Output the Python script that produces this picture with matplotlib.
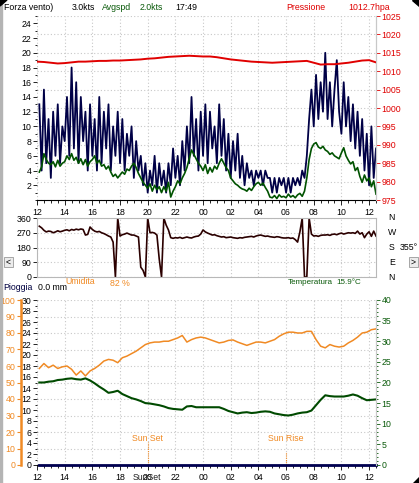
import numpy as np
import matplotlib.pyplot as plt
from matplotlib.ticker import MultipleLocator, FuncFormatter
from matplotlib.patches import Rectangle, Polygon

plt.rcParams['font.family'] = ['Liberation Sans Narrow', 'Liberation Sans', 'DejaVu Sans']
plt.rcParams['font.size'] = 6.3

# wind gust (kts), every 10 min from 12:10 to 12:30 next day
gust = [
    13, 4, 15, 5, 11,
    3, 12, 6, 13, 5, 10,
    8, 14, 6, 18, 7, 16,
    5, 14, 8, 12, 4, 13,
    6, 11, 4, 14, 5, 12,
    7, 13, 4, 10, 6, 12,
    5, 11, 4, 9, 6, 10,
    3, 8, 4, 6, 2, 5,
    1, 4, 2, 6, 1, 5,
    2, 4, 1, 5, 2, 7,
    3, 6, 2, 8, 4, 10,
    5, 14, 6, 11, 4, 12,
    6, 13, 5, 12, 7, 10,
    5, 13, 6, 11, 4, 9,
    3, 8, 4, 9, 3, 6,
    2, 5, 3, 4, 2, 4,
    3, 4, 2, 4, 3, 3,
    1, 3, 1, 3, 2, 3,
    1, 3, 1, 3, 2, 3,
    2, 4, 3, 6, 11, 15,
    10, 17, 11, 16, 12, 20,
    11, 16, 10, 15, 19, 12,
    9, 16, 10, 14, 8, 13,
    7, 12, 6, 11, 4, 9,
    2, 10, 3, 7,
]

# average speed (kts), same times
avgspd = [
    3.8, 4.5, 6.3, 5.5, 5.0,
    4.8, 5.2, 4.5, 5.4, 4.6, 5.0,
    5.2, 6.0, 5.5, 6.3, 5.4, 5.8,
    5.0, 5.6, 4.8, 5.5, 4.6, 5.2,
    5.5, 6.0, 5.0, 5.4, 4.6, 4.8,
    4.2, 4.6, 3.8, 3.2, 3.5, 3.0,
    3.4, 3.8, 3.5, 4.2, 4.0, 4.6,
    5.0, 4.4, 3.6, 3.0, 2.4, 2.0,
    1.6, 2.2, 1.2, 2.0, 1.4, 1.8,
    1.0, 1.8, 1.2, 2.4, 0.4, 1.2,
    1.8, 2.6, 2.2, 3.0, 3.6, 4.4,
    5.6, 6.8, 6.2, 5.6, 5.0, 4.6,
    4.0, 4.8, 3.6, 4.4, 3.8, 4.6,
    4.2, 5.0, 5.6, 5.0, 4.4, 4.0,
    3.0, 2.6, 2.2, 2.0, 1.7, 1.5,
    1.4, 1.2, 1.6, 1.3, 1.8, 2.2,
    2.4, 2.0, 2.3, 1.7, 1.2, 0.4,
    0.3, 0.6, 0.2, 0.7, 0.4, 0.5,
    0.3, 0.8, 0.4, 0.6, 0.3, 0.7,
    0.9, 0.5, 1.2, 3.0, 5.5, 7.0,
    7.6, 7.8, 7.2, 7.0, 7.3, 6.8,
    6.6, 6.2, 6.4, 6.0, 5.8, 5.6,
    6.4, 7.1, 6.0, 5.4, 4.9, 5.2,
    4.0, 4.4, 3.2, 2.4, 3.4, 2.6,
    3.0, 1.8, 2.6, 0.8,
]

# wind direction (deg), same times
direction = [
    310, 300, 285, 275, 280,
    278, 270, 275, 282, 276, 280,
    285, 288, 282, 290, 286, 292,
    288, 293, 290, 256, 260, 305,
    290, 280, 275, 278, 270, 265,
    258, 250, 244, 213, 0, 360,
    250, 258, 262, 268, 262, 256,
    256, 250, 244, 60, 40, 0,
    360, 270, 272, 268, 256, 110,
    0, 360, 317, 287, 240, 236,
    240, 238, 242, 236, 240, 244,
    240, 238, 244, 248, 250, 262,
    287, 275, 268, 262, 256, 258,
    252, 248, 244, 246, 240, 242,
    244, 240, 238, 236, 240, 238,
    242, 244, 246, 248, 244, 250,
    254, 256, 252, 248, 250, 246,
    244, 242, 246, 244, 240, 238,
    238, 240, 236, 238, 228, 213,
    275, 360, 0, 0, 360, 262,
    250, 252, 248, 254, 256, 256,
    258, 254, 260, 262, 258, 264,
    268, 262, 266, 270, 268, 270,
    266, 280, 262, 270, 240, 262,
    276, 248, 280, 250,
]

# pressure (hPa), every 30 min from 12:00
pressure = [
    1012.6, 1012.5, 1012.3, 1012.1, 1012.2, 1012.4, 1012.6, 1012.6,
    1012.7, 1012.8, 1012.8, 1012.9, 1012.9, 1013.0, 1013.1, 1013.2,
    1013.4, 1013.5, 1013.7, 1013.9, 1014.0, 1014.1, 1014.2, 1014.1,
    1014.0, 1014.0, 1013.8, 1013.5, 1013.2, 1013.0, 1012.8, 1012.6,
    1012.5, 1012.4, 1012.3, 1012.4, 1012.5, 1012.6, 1012.7, 1012.8,
    1012.3, 1011.8, 1011.9, 1011.9, 1012.1, 1012.3, 1012.6, 1012.9,
    1013.0, 1012.4,
]

# humidity (%) and temperature (C), every 20 min from 12:10
humidity = [
    58.5, 61.5, 59.0,
    60.5, 58.5, 59.5,
    60.0, 58.0, 54.5,
    57.0, 54.0, 57.0,
    58.5, 60.5, 63.0,
    64.0, 63.5, 62.0,
    65.0, 66.0, 67.5,
    69.0, 71.0, 73.0,
    74.0, 74.5, 74.5,
    75.0, 75.0, 76.0,
    77.0, 78.5, 74.5,
    76.0, 77.0, 77.5,
    77.0, 76.0, 75.0,
    74.0, 74.5, 75.5,
    75.8, 74.5, 73.5,
    72.5, 73.5, 74.5,
    74.5, 74.0, 75.0,
    76.0, 78.0, 79.5,
    80.5, 80.5, 80.0,
    80.0, 81.0, 81.0,
    76.0, 72.0, 71.0,
    73.0, 72.0, 71.5,
    72.0, 74.0, 75.5,
    77.5, 80.0, 80.5,
    82.0, 82.5,
]

temperature = [
    20.0, 20.0, 20.2,
    20.3, 20.6, 20.7,
    20.9, 21.0, 20.8,
    20.7, 21.0, 20.5,
    19.8, 19.0, 18.3,
    17.5, 17.7, 18.0,
    17.2, 16.7, 16.2,
    15.9, 15.5, 15.0,
    14.9, 14.7, 14.5,
    14.2, 13.8, 13.6,
    13.5, 13.4, 14.2,
    14.3, 14.0, 14.0,
    14.0, 14.0, 14.0,
    14.0, 13.6, 13.1,
    12.8, 12.5, 12.7,
    12.8, 12.6, 12.7,
    12.9, 13.0, 12.9,
    12.5, 12.3, 12.1,
    12.0, 12.2, 12.5,
    12.7, 12.8, 13.2,
    14.5, 15.8, 16.9,
    16.7, 16.6, 16.6,
    16.6, 16.8, 17.1,
    16.8, 16.2, 15.7,
    15.8, 15.9,
]

rain = [0.0] * len(humidity)

t_fast = 12 + 10 / 60 + np.arange(len(gust)) / 6
t_slow = 12 + 10 / 60 + np.arange(len(humidity)) / 3
t_pres = 12 + np.arange(len(pressure)) * 0.5

W, H = 419, 483
GRID = '#c8c8c8'
ORANGE = '#f08a24'
GREEN = '#0a5a0a'
RED = '#e00000'

fig = plt.figure(figsize=(W / 100, H / 100), dpi=100)


def px_axes(l, t, r, b):
    return fig.add_axes([l / W, 1 - b / H, (r - l) / W, (b - t) / H])


def ftxt(x, y, s, color='black', ha='left', **kw):
    fig.text(x / W, 1 - y / H, s, color=color, ha=ha, va='center', **kw)


def hour_fmt(v, pos):
    return '%02d' % (int(round(v)) % 24)


def style_x(ax, labels):
    ax.set_xlim(12, 36.5)
    ax.xaxis.set_major_locator(MultipleLocator(2))
    ax.xaxis.set_minor_locator(MultipleLocator(0.5))
    ax.xaxis.set_major_formatter(FuncFormatter(hour_fmt))
    ax.tick_params(axis='x', which='major', length=3.5, width=0.6, pad=2, labelbottom=labels)
    ax.tick_params(axis='x', which='minor', length=2.5, width=0.6)


# ---- wind panel
ax1 = px_axes(37, 16, 376, 200)
ax1.set_ylim(0, 25)
style_x(ax1, True)
ax1.yaxis.set_minor_locator(MultipleLocator(1))
ax1.set_yticks(np.arange(2, 25, 2))
ax1.tick_params(axis='y', which='major', length=3, width=0.6, pad=1)
ax1.tick_params(axis='y', which='minor', length=1.5, width=0.6)
ax1.grid(axis='x', color=GRID, linestyle=(0, (1, 2)), linewidth=0.8)
for p in np.arange(975, 1026, 5):
    ax1.axhline((p - 975) / 2, color=GRID, linestyle=(0, (1, 2)), linewidth=0.8, zorder=0)
for s in ['top', 'left']:
    ax1.spines[s].set_visible(False)
ax1.spines['right'].set_color(GRID)
ax1.spines['bottom'].set_linewidth(0.8)
ax1.plot(t_fast, gust, color='#000046', lw=1.3)
ax1.plot(t_fast, avgspd, color='#005200', lw=1.2)

ax1p = ax1.twinx()
ax1p.set_ylim(975, 1025)
ax1p.set_yticks(np.arange(975, 1026, 5))
ax1p.tick_params(axis='y', colors=RED, length=3, width=0.6, pad=1)
for s in ['top', 'left', 'bottom']:
    ax1p.spines[s].set_visible(False)
ax1p.spines['right'].set_color(GRID)
ax1p.plot(t_pres, pressure, color=RED, lw=1.4)

# ---- direction panel
ax2 = px_axes(37, 218, 376, 277)
ax2.set_ylim(0, 360)
ax2.set_yticks([0, 90, 180, 270, 360])
style_x(ax2, False)
ax2.tick_params(axis='x', which='both', length=0)
ax2.tick_params(axis='y', length=3, width=0.6, pad=1)
ax2.grid(color=GRID, linestyle=(0, (1, 2)), linewidth=0.8)
for s in ax2.spines.values():
    s.set_color('#b8b8b8')
ax2.plot(t_fast, direction, color='#2b0000', lw=1.2)
trans2 = ax2.get_yaxis_transform()
for v, lab in zip([360, 270, 180, 90, 0], ['N', 'W', 'S', 'E', 'N']):
    ax2.text(1.047, v, lab, transform=trans2, ha='center', va='center', fontsize=6.3)
ax2.text(1.07, 180, '355°', transform=trans2, ha='left', va='center', fontsize=6.3)

# ---- rain / humidity / temperature panel
ax3 = px_axes(37, 300, 376, 465)
ax3.set_ylim(0, 30)
ax3.set_yticks(np.arange(0, 31, 2))
ax3.yaxis.set_minor_locator(MultipleLocator(1))
style_x(ax3, True)
ax3.tick_params(axis='y', which='major', length=3, width=0.6, pad=1)
ax3.tick_params(axis='y', which='minor', length=1.5, width=0.6)
ax3.grid(axis='x', color=GRID, linestyle=(0, (1, 2)), linewidth=0.8)
for h in np.arange(0, 101, 10):
    ax3.axhline(h * 0.3, color=GRID, linestyle=(0, (1, 2)), linewidth=0.8, zorder=0)
for s in ['top', 'left']:
    ax3.spines[s].set_visible(False)
ax3.spines['right'].set_color(GRID)
ax3.spines['bottom'].set_linewidth(0.8)
ax3.plot(t_slow, rain, color='#000050', lw=2, clip_on=False, zorder=3)
ax3.vlines(20, 0, 4.2, color=ORANGE, linestyle=(0, (1, 1)), lw=0.8)
ax3.vlines(30, 0, 2.4, color=ORANGE, linestyle=(0, (1, 1)), lw=0.8)
ax3.text(20, 4.9, 'Sun Set', color=ORANGE, ha='center', va='center', fontsize=6.3)
ax3.text(30, 4.9, 'Sun Rise', color=ORANGE, ha='center', va='center', fontsize=6.3)

ax3h = ax3.twinx()
ax3h.set_ylim(0, 100)
ax3h.set_yticks(np.arange(0, 101, 10))
ax3h.yaxis.set_ticks_position('left')
ax3h.yaxis.set_label_position('left')
ax3h.spines['left'].set_position(('axes', -0.047))
ax3h.spines['left'].set_visible(True)
ax3h.spines['left'].set_color(ORANGE)
ax3h.spines['left'].set_linewidth(1.8)
for s in ['top', 'right', 'bottom']:
    ax3h.spines[s].set_visible(False)
ax3h.tick_params(axis='y', colors=ORANGE, length=3, width=0.8, pad=1)
ax3h.plot(t_slow, humidity, color=ORANGE, lw=1.1)

ax3t = ax3.twinx()
ax3t.set_ylim(0, 40)
ax3t.set_yticks(np.arange(0, 41, 5))
ax3t.yaxis.set_minor_locator(MultipleLocator(1))
for s in ['top', 'left', 'bottom']:
    ax3t.spines[s].set_visible(False)
ax3t.spines['right'].set_color(GRID)
ax3t.tick_params(axis='y', which='major', colors=GREEN, length=3, width=0.6, pad=1)
ax3t.tick_params(axis='y', which='minor', colors=GREEN, length=1.5, width=0.6)
ax3t.plot(t_slow, temperature, color='#004a00', lw=1.5)

# ---- header texts
ftxt(4, 8, 'Forza vento)')
ftxt(72, 8, '3.0kts')
ftxt(102, 8, 'Avgspd', color=GREEN)
ftxt(140, 8, '2.0kts', color=GREEN)
ftxt(175, 8, '17:49')
ftxt(286, 8, 'Pressione', color=RED)
ftxt(348, 8, '1012.7hpa', color=RED)

ftxt(3, 288, 'Pioggia', color='#000040')
ftxt(38, 288, '0.0 mm')
ftxt(65, 282, 'Umidita', color=ORANGE)
ftxt(110, 283, '82 %', color=ORANGE)
ftxt(288, 283, 'Temperatura', color=GREEN, fontsize=5.8)
ftxt(336, 283, '15.9°C', color=GREEN, fontsize=5.8)
ftxt(147, 477, 'SunSet', color='#202020', ha='center')

# ---- window decorations
fig.patches.append(Rectangle((0, 0), 1.5 / W, 1, transform=fig.transFigure, color='#b4b4b4'))
for (x0, y0) in [(4, 257), (409, 257)]:
    fig.patches.append(Rectangle((x0 / W, 1 - (y0 + 10) / H), 9 / W, 10 / H,
                                 transform=fig.transFigure, facecolor='#ececec',
                                 edgecolor='#9a9a9a', lw=0.6))
ftxt(8.5, 262, '<', ha='center')
ftxt(413.5, 262, '>', ha='center')
for pts in [[(0, 0), (7, 0), (0, 6)], [(412, 0), (419, 0), (419, 6)], [(413, 483), (419, 483), (419, 477)]]:
    fig.patches.append(Polygon([(x / W, 1 - y / H) for x, y in pts], closed=True,
                               transform=fig.transFigure, color='black'))

fig.savefig('out.png', dpi=100)
